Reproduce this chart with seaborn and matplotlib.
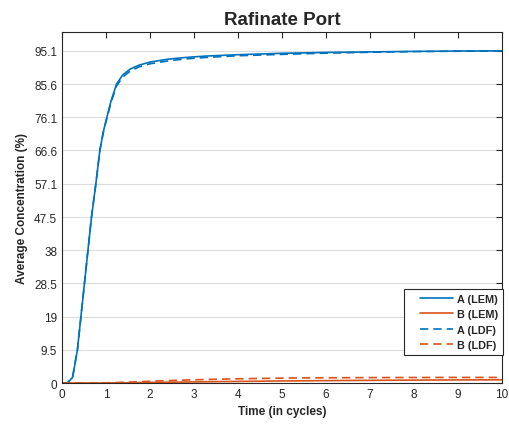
import numpy as np
import pandas as pd
import seaborn as sns
import matplotlib
matplotlib.use("Agg")
import matplotlib.pyplot as plt

# valores
time = [0, 0.12, 0.24, 0.35, 0.43, 0.51, 0.59, 0.67, 0.77, 0.86, 0.94, 1.02, 1.12, 1.24,
        1.38, 1.55, 1.75, 2.0, 2.4, 2.8, 3.25, 4, 5, 6, 7, 8, 9, 10]
a_lem = [0, 0, 1.6, 9.5, 19, 28.5, 38, 47.5, 57.1, 66.6, 72, 76.1, 81, 85.6,
         88.2, 89.9, 91.0, 91.9, 92.7, 93.2, 93.6, 94.0, 94.4, 94.65, 94.8, 94.95, 95.05, 95.1]
a_ldf = [0, 0, 1.6, 9.5, 19, 28.5, 38, 47.5, 57.1, 66.5, 71.8, 75.8, 80.5, 85.0,
         87.6, 89.3, 90.5, 91.4, 92.2, 92.8, 93.2, 93.7, 94.1, 94.45, 94.7, 94.9, 95.0, 95.1]
b_lem = [0, 0, 0, 0, 0, 0, 0, 0, 0, 0, 0, 0.01, 0.02, 0.04,
         0.06, 0.08, 0.11, 0.15, 0.22, 0.28, 0.35, 0.45, 0.58, 0.68, 0.76, 0.83, 0.88, 0.92]
b_ldf = [0, 0, 0, 0, 0, 0, 0.01, 0.02, 0.03, 0.04, 0.05, 0.07, 0.1, 0.14,
         0.2, 0.27, 0.36, 0.5, 0.68, 0.85, 1.0, 1.2, 1.4, 1.5, 1.55, 1.58, 1.6, 1.6]

y_ticks = [0, 9.5, 19, 28.5, 38, 47.5, 57.1, 66.6, 76.1, 85.6, 95.1]
y_labels = ["0", "9.5", "19", "28.5", "38", "47.5", "57.1", "66.6", "76.1", "85.6", "95.1"]

sns.set_style("white")
plt.rcParams['font.family'] = ['Liberation Sans', 'DejaVu Sans']

blue = "#0072BD"
red = "#D95319"

fig = plt.figure(figsize=(5.1, 4.27), dpi=100)
ax = fig.add_axes([0.1216, 0.1007, 0.8624, 0.822])

sns.lineplot(x=time, y=a_lem, color=blue, lw=1.2, label="A (LEM)", ax=ax)
sns.lineplot(x=time, y=b_lem, color=red, lw=1.2, label="B (LEM)", ax=ax)
sns.lineplot(x=time, y=a_ldf, color=blue, lw=1.2, ls=(0, (5, 3)), label="A (LDF)", ax=ax)
sns.lineplot(x=time, y=b_ldf, color=red, lw=1.2, ls=(0, (5, 3)), label="B (LDF)", ax=ax)

ax.set_xlim(0, 10)
ax.set_ylim(0, 100.5)
ax.set_xticks(range(0, 11))
ax.set_yticks(y_ticks)
ax.set_yticklabels(y_labels)
ax.yaxis.grid(True, color="#dcdcdc", lw=0.8)
ax.set_axisbelow(True)
ax.tick_params(direction="in", top=True, right=True, length=4, width=0.8,
               labelsize=8.5, color="#262626", labelcolor="#262626")
for s in ax.spines.values():
    s.set_color("#262626")
    s.set_linewidth(0.8)

ax.set_title("Rafinate Port", fontsize=13.5, fontweight="bold", pad=6)
ax.set_xlabel("Time (in cycles)", fontsize=8.5, fontweight="bold")
ax.set_ylabel("Average Concentration (%)", fontsize=8.5, fontweight="bold")

leg = ax.legend(loc="lower right", bbox_to_anchor=(1.003, 0.08), borderaxespad=0,
                handlelength=4.1, prop={"weight": "bold", "size": 7.8}, frameon=True,
                fancybox=False, borderpad=0.45, labelspacing=0.5, handletextpad=0.4)
leg.get_frame().set_edgecolor("#262626")
leg.get_frame().set_linewidth(0.8)
leg.get_frame().set_alpha(1)
# espaço à esquerda da amostra, como no MATLAB
for ln in leg.get_lines():
    xd = ln.get_xdata()
    ln.set_xdata([xd[0] + 0.25 * (xd[-1] - xd[0]), xd[-1]])
    ln.set_ydata([ln.get_ydata()[0]] * 2)

fig.savefig("out.png", dpi=100)
